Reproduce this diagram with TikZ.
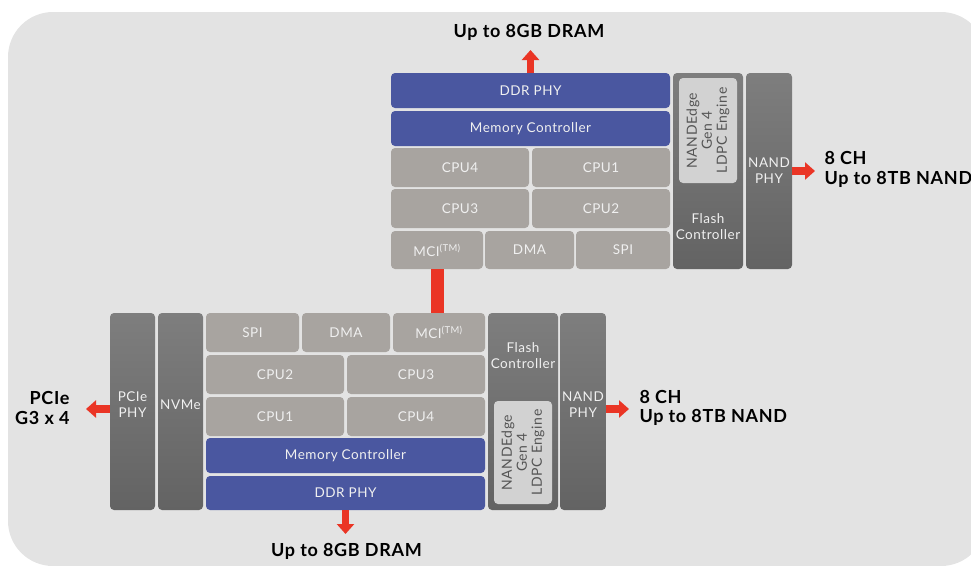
\documentclass[tikz,border=0pt]{standalone}
\usepackage{fontspec}
\setmainfont{Lato}[LetterSpace=4]
\usetikzlibrary{arrows.meta}
\definecolor{panelg}{HTML}{E3E3E3}
\definecolor{liteg}{HTML}{A8A4A0}
\definecolor{chipblue}{HTML}{4A57A0}
\definecolor{darktop}{HTML}{7E7E7E}
\definecolor{darkbot}{HTML}{636363}
\definecolor{ldpcg}{HTML}{D2D2D2}
\definecolor{ldpctext}{HTML}{555555}
\definecolor{arrred}{HTML}{EA3525}

\begin{document}
\begin{tikzpicture}[x=1pt,y=-1pt,
  box/.style={rounded corners=4pt,inner sep=0pt,text=white!94!black,
    font=\fontsize{13.5}{16}\selectfont,align=center},
  lite/.style={box,fill=liteg},
  memblk/.style={box,fill=chipblue},
  dark/.style={box,top color=darktop,bottom color=darkbot},
  ldpc/.style={box,fill=ldpcg,text=ldpctext,rotate=90,
    font=\fontsize{14}{15}\selectfont},
  wtxt/.style={text=white!94!black,font=\fontsize{13.5}{16}\selectfont,align=center},
  title/.style={font=\bfseries\fontsize{18}{19.5}\selectfont},
  redarr/.style={draw=arrred,line width=7.5pt,-{Triangle[width=17pt,length=10pt]}},
  redbar/.style={draw=arrred,line width=13pt}]
\useasboundingbox (0,0) rectangle (971,565);
\fill[panelg,rounded corners=45pt] (8,12) rectangle (986,566);

% upper controller
\node[memblk,minimum width=279pt,minimum height=35pt] (tddr) at (530.5,90.5) {DDR PHY};
\node[memblk,minimum width=279pt,minimum height=35pt] (tmem) at (530.5,128.5) {Memory Controller};
\node[lite,minimum width=138pt,minimum height=39pt] (tcpu4) at (460,167.5) {CPU4};
\node[lite,minimum width=138pt,minimum height=39pt] (tcpu1) at (601,167.5) {CPU1};
\node[lite,minimum width=138pt,minimum height=39pt] (tcpu3) at (460,208.5) {CPU3};
\node[lite,minimum width=138pt,minimum height=39pt] (tcpu2) at (601,208.5) {CPU2};
\node[lite,minimum width=92pt,minimum height=38pt] (tmci) at (437,250) {MCI\textsuperscript{(TM)}};
\node[lite,minimum width=89pt,minimum height=38pt] (tdma) at (529.5,250) {DMA};
\node[lite,minimum width=94pt,minimum height=38pt] (tspi) at (623,250) {SPI};
\node[dark,minimum width=70pt,minimum height=196pt] (tflash) at (708,171) {};
\node[ldpc,minimum width=105pt,minimum height=58pt] (tldpc) at (708,130.5) {NANDEdge\\Gen 4\\LDPC Engine};
\node[wtxt] (tflashtxt) at (708,227) {Flash\\Controller};
\node[dark,minimum width=46pt,minimum height=196pt] (tnand) at (769,171) {NAND\\PHY};

\node[title] (tdramtxt) at (529,32) {Up to 8GB DRAM};
\coordinate (tdramtip) at (530.5,50);
\draw[redarr] (tddr.north) -- (tdramtip);
\coordinate (tnandtip) at (815,171);
\draw[redarr] (tnand.east) -- (tnandtip);
\node[title,anchor=west,align=left] (tnandtxt) at (821,169.5) {8 CH\\Up to 8TB NAND};

% lower controller
\node[dark,minimum width=45pt,minimum height=197pt] (bpcie) at (132.5,411.5) {};
\node[wtxt] (bpcietxt) at (132.5,405) {PCIe\\PHY};
\node[dark,minimum width=45pt,minimum height=197pt] (bnvme) at (180.5,411.5) {};
\node[wtxt] (bnvmetxt) at (180.5,405) {NVMe};
\node[lite,minimum width=93pt,minimum height=39pt] (bspi) at (252.5,332.5) {SPI};
\node[lite,minimum width=88pt,minimum height=39pt] (bdma) at (346,332.5) {DMA};
\node[lite,minimum width=92pt,minimum height=39pt] (bmci) at (439,332.5) {MCI\textsuperscript{(TM)}};
\node[lite,minimum width=138pt,minimum height=39pt] (bcpu2) at (275,374.5) {CPU2};
\node[lite,minimum width=138pt,minimum height=39pt] (bcpu3) at (416,374.5) {CPU3};
\node[lite,minimum width=138pt,minimum height=39pt] (bcpu1) at (275,416.5) {CPU1};
\node[lite,minimum width=138pt,minimum height=39pt] (bcpu4) at (416,416.5) {CPU4};
\node[memblk,minimum width=279pt,minimum height=35pt] (bmem) at (345.5,455.5) {Memory Controller};
\node[memblk,minimum width=279pt,minimum height=34pt] (bddr) at (345.5,493) {DDR PHY};
\node[dark,minimum width=70pt,minimum height=197pt] (bflash) at (523,411.5) {};
\node[wtxt] (bflashtxt) at (523,356) {Flash\\Controller};
\node[ldpc,minimum width=103pt,minimum height=58pt] (bldpc) at (523,452.5) {NANDEdge\\Gen 4\\LDPC Engine};
\node[dark,minimum width=46pt,minimum height=197pt] (bnand) at (583,411.5) {};
\node[wtxt] (bnandtxt) at (583,405) {NAND\\PHY};

\coordinate (bnandtip) at (629,409);
\draw[redarr] (bnand.east |- bnandtip) -- (bnandtip);
\node[title,anchor=west,align=left] (bnandtxt2) at (636,408) {8 CH\\Up to 8TB NAND};
\coordinate (bpcietip) at (86,409);
\draw[redarr] (bpcie.west |- bpcietip) -- (bpcietip);
\node[title,anchor=east,align=right] (bpcielbl) at (73,408) {PCIe\\G3 x 4};
\coordinate (bdramtip) at (345.5,534);
\draw[redarr] (bddr.south) -- (bdramtip);
\node[title] (bdramtxt) at (346.5,551) {Up to 8GB DRAM};

% link between the two chips
\draw[redbar] (tmci.south) -- (tmci.south |- bmci.north);
\end{tikzpicture}
\end{document}
